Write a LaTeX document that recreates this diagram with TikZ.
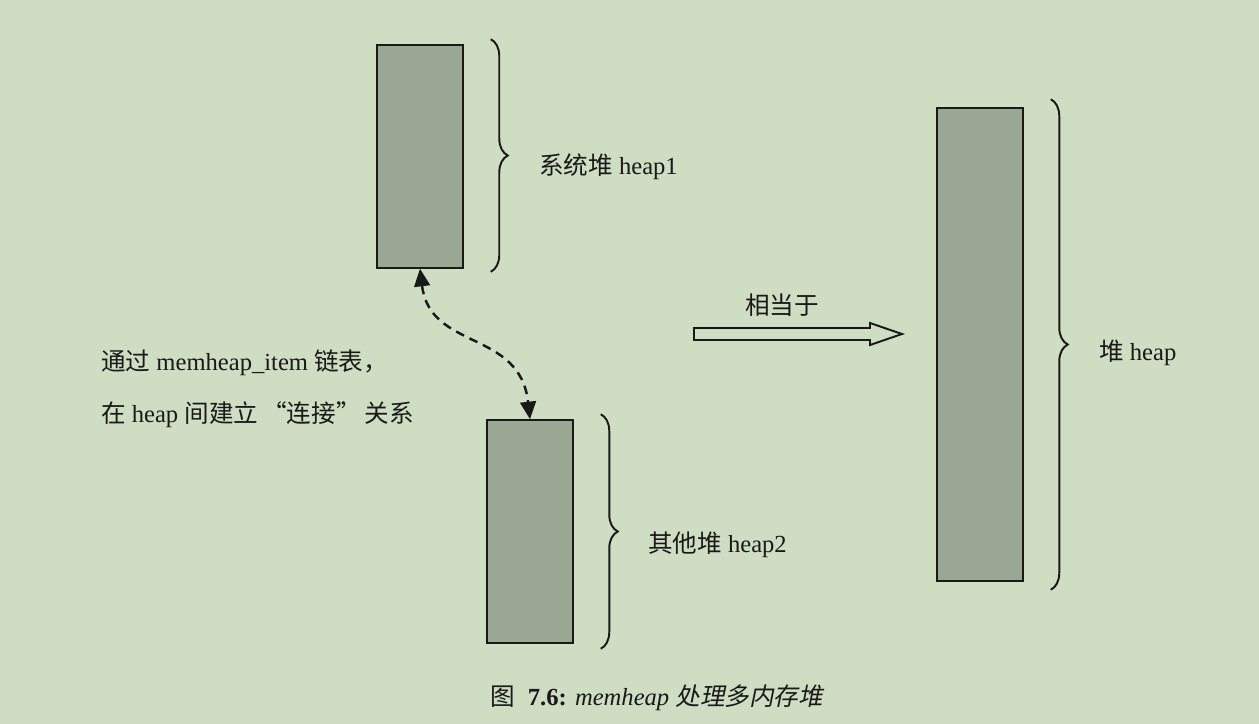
\documentclass[tikz,border=0pt]{standalone}
\usepackage{fontspec}
\setmainfont{Liberation Serif}
\newfontfamily\cjk{Noto Sans CJK SC}
\newfontfamily\cjkit[FakeSlant=0.2]{Noto Sans CJK SC}
\usepackage{tikz}
\usetikzlibrary{positioning, arrows.meta, calc, decorations.pathreplacing}
\definecolor{PageGreen}{RGB}{207,222,195}
\definecolor{HeapGray}{RGB}{154,167,147}
\definecolor{InkBlack}{RGB}{25,25,25}
\tikzset{
  heapbox/.style={draw=InkBlack, line width=0.9pt, fill=HeapGray, minimum width=1.72cm,
    inner sep=0pt},
  heapbrace/.style={draw=InkBlack, line width=1.1pt,
    decorate, decoration={brace, amplitude=0.34cm}},
  lbl/.style={anchor=west, inner sep=1pt, text=InkBlack, font=\fontsize{14}{16}\selectfont},
  linkarrow/.style={{Triangle[length=10pt,width=9pt]}-{Triangle[length=10pt,width=9pt]},
    draw=InkBlack, line width=1.4pt, dash pattern=on 5pt off 3.5pt},
  hollowarrow/.style={draw=InkBlack, line width=1.1pt, fill=PageGreen, line join=miter},
  captext/.style={inner sep=1pt, text=InkBlack, font=\fontsize{14}{16}\selectfont},
}

\begin{document}
\begin{tikzpicture}[x=0.02cm, y=-0.02cm]
  \fill[PageGreen] (0,0) rectangle (1259,724);
  \useasboundingbox (0,0) rectangle (1259,724);

  % heaps
  \node[heapbox, minimum height=4.46cm] (heap1) at (420,156.5) {};
  \node[heapbox, minimum height=4.46cm] (heap2) at (530,531.5) {};
  \node[heapbox, minimum height=9.46cm] (heapall) at (980,344.5) {};

  % braces
  \draw[heapbrace] ($(heap1.north east)+(27,-5)$) -- ($(heap1.south east)+(27,3)$);
  \draw[heapbrace] ($(heap2.north east)+(27,-5)$) -- ($(heap2.south east)+(27,5)$);
  \draw[heapbrace] ($(heapall.north east)+(27,-8)$) -- ($(heapall.south east)+(27,8)$);

  \node[lbl] (lab1) at (537,167) {{\cjk 系统堆} heap1};
  \node[lbl] (lab2) at (646,545) {{\cjk 其他堆} heap2};
  \node[lbl] (lab3) at (1097,353) {{\cjk 堆} heap};

  % link between heaps
  \draw[linkarrow] (heap1.south) .. controls +(10,82) and +(-10,-90) .. (heap2.north);
  \node[lbl] (note1) at (99,363) {{\cjk 通过} memheap\_item {\cjk 链表，}};
  \node[lbl] (note2) at (99,415) {{\cjk 在} heap {\cjk 间建立}\,{\cjk “连接”}\,{\cjk 关系}};

  % equivalent
  \coordinate (eqs) at (694,334);
  \coordinate (eqt) at (902,334);
  \draw[hollowarrow] ($(eqs)+(0,-6)$) -- ($(eqt)+(-32,-6)$) -- ($(eqt)+(-32,-11)$) -- (eqt)
    -- ($(eqt)+(-32,11)$) -- ($(eqt)+(-32,6)$) -- ($(eqs)+(0,6)$) -- cycle;
  \node[lbl, anchor=center] (eqlab) at (782,305) {\cjk 相当于};

  \node[captext] (cap) at (657,698) {{\cjk 图}\ \ \textbf{7.6:} \textit{memheap} {\cjkit 处理多内存堆}};
\end{tikzpicture}
\end{document}
